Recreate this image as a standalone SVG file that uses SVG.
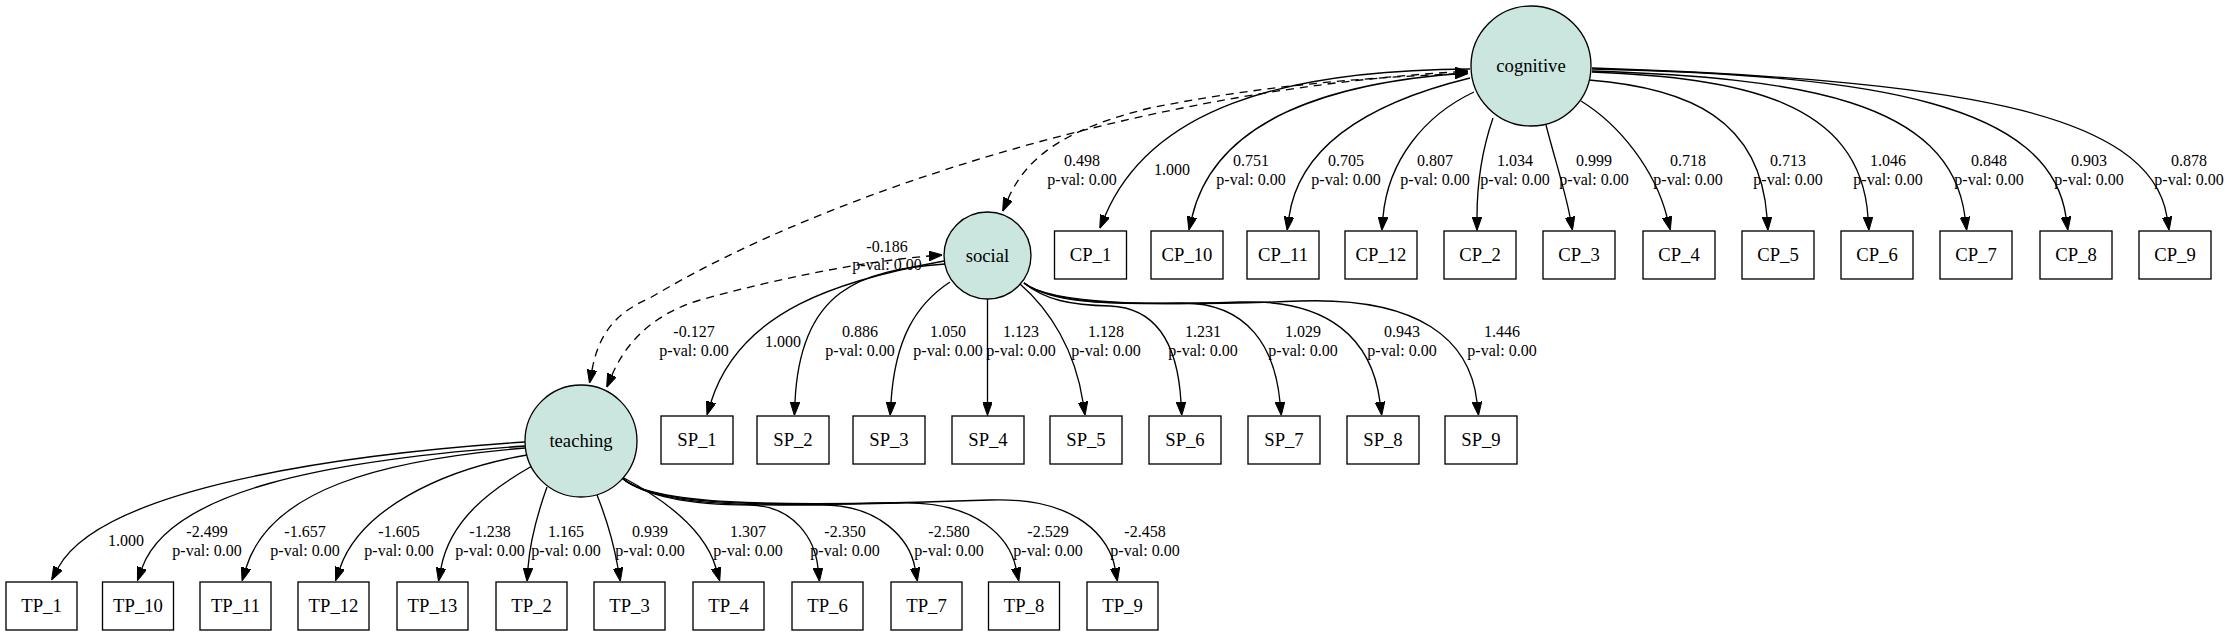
<svg xmlns="http://www.w3.org/2000/svg" width="2225" height="636" viewBox="0 0 2225 636">
<defs>
<style>
.e{fill:none;stroke:#000;stroke-width:1.33;marker-end:url(#arr)}
.d{fill:none;stroke:#000;stroke-width:1.33;stroke-dasharray:8,6;marker-end:url(#arr);marker-start:url(#arrs)}
.lat{fill:#cae6df;stroke:#000;stroke-width:1.33}
.box{fill:none;stroke:#000;stroke-width:1.33}
.nt{font-family:"Liberation Serif","Times New Roman",serif;font-size:18.67px;text-anchor:middle;fill:#000}
.et{font-family:"Liberation Serif","Times New Roman",serif;font-size:16px;text-anchor:middle;fill:#000}
</style>
<marker id="arr" markerUnits="userSpaceOnUse" viewBox="0 0 13.5 9.6" markerWidth="13.5" markerHeight="9.6" refX="0" refY="4.8" orient="auto"><path d="M0,0 L13.5,4.8 L0,9.6 Z" fill="#000" stroke="#000" stroke-width="1"/></marker>
<marker id="arrs" markerUnits="userSpaceOnUse" viewBox="0 0 13.5 9.6" markerWidth="13.5" markerHeight="9.6" refX="0" refY="4.8" orient="auto-start-reverse"><path d="M0,0 L13.5,4.8 L0,9.6 Z" fill="#000" stroke="#000" stroke-width="1"/></marker>
</defs>
<rect x="0" y="0" width="2225" height="636" fill="#fff"/>
<g id="connectors">
<!-- covariances -->
<path class="d" d="M592,370 C598,338 612,314 650,298 C830,190 1150,90 1455,72"/>
<path class="d" d="M1008,199 C1025,160 1060,130 1150,108 C1250,88 1350,78 1455,74"/>
<path class="d" d="M612,375 C625,345 650,315 700,300 C780,278 860,262 929,256"/>
<text class="et" x="1082" y="166">0.498</text><text class="et" x="1082" y="185">p-val: 0.00</text>
<text class="et" x="887" y="251.5">-0.186</text><text class="et" x="887" y="270">p-val: 0.00</text>
<text class="et" x="694" y="337">-0.127</text><text class="et" x="694" y="356">p-val: 0.00</text>
<!-- cognitive loadings -->
<path class="e" d="M1470,69 C1280,70 1150,110 1105,216"/>
<path class="e" d="M1468,73 C1330,82 1215,120 1192,217"/>
<path class="e" d="M1470,78 C1380,100 1300,140 1289,217"/>
<path class="e" d="M1474,92 C1425,115 1388,160 1383,217"/>
<path class="e" d="M1493,118 C1482,150 1477,185 1477,217"/>
<path class="e" d="M1546,125 C1555,160 1565,190 1570,217"/>
<path class="e" d="M1581,101 C1620,125 1655,170 1667,217"/>
<path class="e" d="M1589,80 C1690,88 1760,120 1767,217"/>
<path class="e" d="M1592,72 C1740,78 1860,100 1868,217"/>
<path class="e" d="M1592,71 C1800,78 1950,100 1965,217"/>
<path class="e" d="M1592,69 C1880,75 2050,105 2066,217"/>
<path class="e" d="M1592,68 C1950,80 2150,110 2167,217"/>
<text class="et" x="1172" y="174.5">1.000</text>
<text class="et" x="1251" y="166">0.751</text><text class="et" x="1251" y="185">p-val: 0.00</text>
<text class="et" x="1346" y="166">0.705</text><text class="et" x="1346" y="185">p-val: 0.00</text>
<text class="et" x="1435" y="166">0.807</text><text class="et" x="1435" y="185">p-val: 0.00</text>
<text class="et" x="1515" y="166">1.034</text><text class="et" x="1515" y="185">p-val: 0.00</text>
<text class="et" x="1594" y="166">0.999</text><text class="et" x="1594" y="185">p-val: 0.00</text>
<text class="et" x="1688" y="166">0.718</text><text class="et" x="1688" y="185">p-val: 0.00</text>
<text class="et" x="1788" y="166">0.713</text><text class="et" x="1788" y="185">p-val: 0.00</text>
<text class="et" x="1888" y="166">1.046</text><text class="et" x="1888" y="185">p-val: 0.00</text>
<text class="et" x="1989" y="166">0.848</text><text class="et" x="1989" y="185">p-val: 0.00</text>
<text class="et" x="2089" y="166">0.903</text><text class="et" x="2089" y="185">p-val: 0.00</text>
<text class="et" x="2189" y="166">0.878</text><text class="et" x="2189" y="185">p-val: 0.00</text>
<!-- social loadings -->
<path class="e" d="M944,261 C840,280 740,310 711,402"/>
<path class="e" d="M945,264 C860,270 800,290 795,402"/>
<path class="e" d="M950,282 C915,305 895,340 891,402"/>
<path class="e" d="M987.5,299 L987.5,402"/>
<path class="e" d="M1020,284 C1050,310 1075,350 1083,402"/>
<path class="e" d="M1024,283 C1045,300 1070,305 1110,306 C1160,308 1178,350 1181,402"/>
<path class="e" d="M1024,283 C1050,302 1100,305 1180,303 C1250,302 1275,350 1280,402"/>
<path class="e" d="M1024,283 C1050,303 1120,306 1240,302 C1330,299 1372,340 1380,402"/>
<path class="e" d="M1024,283 C1050,304 1150,307 1300,301 C1420,297 1470,340 1477,402"/>
<text class="et" x="783" y="347">1.000</text>
<text class="et" x="860" y="337">0.886</text><text class="et" x="860" y="356">p-val: 0.00</text>
<text class="et" x="948" y="337">1.050</text><text class="et" x="948" y="356">p-val: 0.00</text>
<text class="et" x="1021" y="337">1.123</text><text class="et" x="1021" y="356">p-val: 0.00</text>
<text class="et" x="1106" y="337">1.128</text><text class="et" x="1106" y="356">p-val: 0.00</text>
<text class="et" x="1203" y="337">1.231</text><text class="et" x="1203" y="356">p-val: 0.00</text>
<text class="et" x="1303" y="337">1.029</text><text class="et" x="1303" y="356">p-val: 0.00</text>
<text class="et" x="1402" y="337">0.943</text><text class="et" x="1402" y="356">p-val: 0.00</text>
<text class="et" x="1502" y="337">1.446</text><text class="et" x="1502" y="356">p-val: 0.00</text>
<!-- teaching loadings -->
<path class="e" d="M525,442 C330,455 100,490 58,568"/>
<path class="e" d="M525,446 C330,460 170,490 142,568"/>
<path class="e" d="M525,448 C380,460 270,490 246,568"/>
<path class="e" d="M527,455 C440,470 360,510 340,568"/>
<path class="e" d="M532,466 C490,490 450,520 441,568"/>
<path class="e" d="M547,487 C537,515 530,540 528,568"/>
<path class="e" d="M597,495 C607,520 614,545 618,568"/>
<path class="e" d="M624,478 C665,500 705,530 716,568"/>
<path class="e" d="M622,478 C650,500 700,505 750,505 C795,506 815,540 818,568"/>
<path class="e" d="M622,478 C650,502 720,506 820,505 C880,504 910,540 915,568"/>
<path class="e" d="M622,478 C650,503 740,507 900,503 C980,501 1010,540 1016,568"/>
<path class="e" d="M622,478 C650,504 760,508 990,500 C1080,497 1110,540 1115,568"/>
<text class="et" x="126" y="546">1.000</text>
<text class="et" x="207" y="537">-2.499</text><text class="et" x="207" y="556">p-val: 0.00</text>
<text class="et" x="305" y="537">-1.657</text><text class="et" x="305" y="556">p-val: 0.00</text>
<text class="et" x="399" y="537">-1.605</text><text class="et" x="399" y="556">p-val: 0.00</text>
<text class="et" x="490" y="537">-1.238</text><text class="et" x="490" y="556">p-val: 0.00</text>
<text class="et" x="566" y="537">1.165</text><text class="et" x="566" y="556">p-val: 0.00</text>
<text class="et" x="650" y="537">0.939</text><text class="et" x="650" y="556">p-val: 0.00</text>
<text class="et" x="748" y="537">1.307</text><text class="et" x="748" y="556">p-val: 0.00</text>
<text class="et" x="845" y="537">-2.350</text><text class="et" x="845" y="556">p-val: 0.00</text>
<text class="et" x="949" y="537">-2.580</text><text class="et" x="949" y="556">p-val: 0.00</text>
<text class="et" x="1048" y="537">-2.529</text><text class="et" x="1048" y="556">p-val: 0.00</text>
<text class="et" x="1145" y="537">-2.458</text><text class="et" x="1145" y="556">p-val: 0.00</text>
</g>
<g id="cognitive"><circle class="lat" cx="1531" cy="66" r="60"/><text class="nt" x="1531" y="72">cognitive</text></g>
<g id="social"><circle class="lat" cx="987.5" cy="255.5" r="43.5"/><text class="nt" x="987.5" y="261.5">social</text></g>
<g id="teaching"><circle class="lat" cx="581" cy="441" r="56"/><text class="nt" x="581" y="447">teaching</text></g>
<g id="CP_1"><rect class="box" x="1054.5" y="231" width="72" height="48"/><text class="nt" x="1090.5" y="261">CP_1</text></g>
<g id="CP_10"><rect class="box" x="1151" y="231" width="72" height="48"/><text class="nt" x="1187" y="261">CP_10</text></g>
<g id="CP_11"><rect class="box" x="1247" y="231" width="72" height="48"/><text class="nt" x="1283" y="261">CP_11</text></g>
<g id="CP_12"><rect class="box" x="1345" y="231" width="72" height="48"/><text class="nt" x="1381" y="261">CP_12</text></g>
<g id="CP_2"><rect class="box" x="1444" y="231" width="72" height="48"/><text class="nt" x="1480" y="261">CP_2</text></g>
<g id="CP_3"><rect class="box" x="1543" y="231" width="72" height="48"/><text class="nt" x="1579" y="261">CP_3</text></g>
<g id="CP_4"><rect class="box" x="1643" y="231" width="72" height="48"/><text class="nt" x="1679" y="261">CP_4</text></g>
<g id="CP_5"><rect class="box" x="1742" y="231" width="72" height="48"/><text class="nt" x="1778" y="261">CP_5</text></g>
<g id="CP_6"><rect class="box" x="1841" y="231" width="72" height="48"/><text class="nt" x="1877" y="261">CP_6</text></g>
<g id="CP_7"><rect class="box" x="1940" y="231" width="72" height="48"/><text class="nt" x="1976" y="261">CP_7</text></g>
<g id="CP_8"><rect class="box" x="2040" y="231" width="72" height="48"/><text class="nt" x="2076" y="261">CP_8</text></g>
<g id="CP_9"><rect class="box" x="2139" y="231" width="72" height="48"/><text class="nt" x="2175" y="261">CP_9</text></g>
<g id="SP_1"><rect class="box" x="661" y="416" width="72" height="48"/><text class="nt" x="697" y="446">SP_1</text></g>
<g id="SP_2"><rect class="box" x="757" y="416" width="72" height="48"/><text class="nt" x="793" y="446">SP_2</text></g>
<g id="SP_3"><rect class="box" x="853" y="416" width="72" height="48"/><text class="nt" x="889" y="446">SP_3</text></g>
<g id="SP_4"><rect class="box" x="952" y="416" width="72" height="48"/><text class="nt" x="988" y="446">SP_4</text></g>
<g id="SP_5"><rect class="box" x="1050" y="416" width="72" height="48"/><text class="nt" x="1086" y="446">SP_5</text></g>
<g id="SP_6"><rect class="box" x="1149" y="416" width="72" height="48"/><text class="nt" x="1185" y="446">SP_6</text></g>
<g id="SP_7"><rect class="box" x="1248" y="416" width="72" height="48"/><text class="nt" x="1284" y="446">SP_7</text></g>
<g id="SP_8"><rect class="box" x="1347" y="416" width="72" height="48"/><text class="nt" x="1383" y="446">SP_8</text></g>
<g id="SP_9"><rect class="box" x="1445" y="416" width="72" height="48"/><text class="nt" x="1481" y="446">SP_9</text></g>
<g id="TP_1"><rect class="box" x="6" y="582" width="71" height="48"/><text class="nt" x="41.5" y="612">TP_1</text></g>
<g id="TP_10"><rect class="box" x="102.5" y="582" width="71" height="48"/><text class="nt" x="138" y="612">TP_10</text></g>
<g id="TP_11"><rect class="box" x="200" y="582" width="71" height="48"/><text class="nt" x="235.5" y="612">TP_11</text></g>
<g id="TP_12"><rect class="box" x="298" y="582" width="71" height="48"/><text class="nt" x="333.5" y="612">TP_12</text></g>
<g id="TP_13"><rect class="box" x="397" y="582" width="71" height="48"/><text class="nt" x="432.5" y="612">TP_13</text></g>
<g id="TP_2"><rect class="box" x="496" y="582" width="71" height="48"/><text class="nt" x="531.5" y="612">TP_2</text></g>
<g id="TP_3"><rect class="box" x="594" y="582" width="71" height="48"/><text class="nt" x="629.5" y="612">TP_3</text></g>
<g id="TP_4"><rect class="box" x="693" y="582" width="71" height="48"/><text class="nt" x="728.5" y="612">TP_4</text></g>
<g id="TP_6"><rect class="box" x="792" y="582" width="71" height="48"/><text class="nt" x="827.5" y="612">TP_6</text></g>
<g id="TP_7"><rect class="box" x="891" y="582" width="71" height="48"/><text class="nt" x="926.5" y="612">TP_7</text></g>
<g id="TP_8"><rect class="box" x="988.5" y="582" width="71" height="48"/><text class="nt" x="1024" y="612">TP_8</text></g>
<g id="TP_9"><rect class="box" x="1087" y="582" width="71" height="48"/><text class="nt" x="1122.5" y="612">TP_9</text></g>
</svg>
